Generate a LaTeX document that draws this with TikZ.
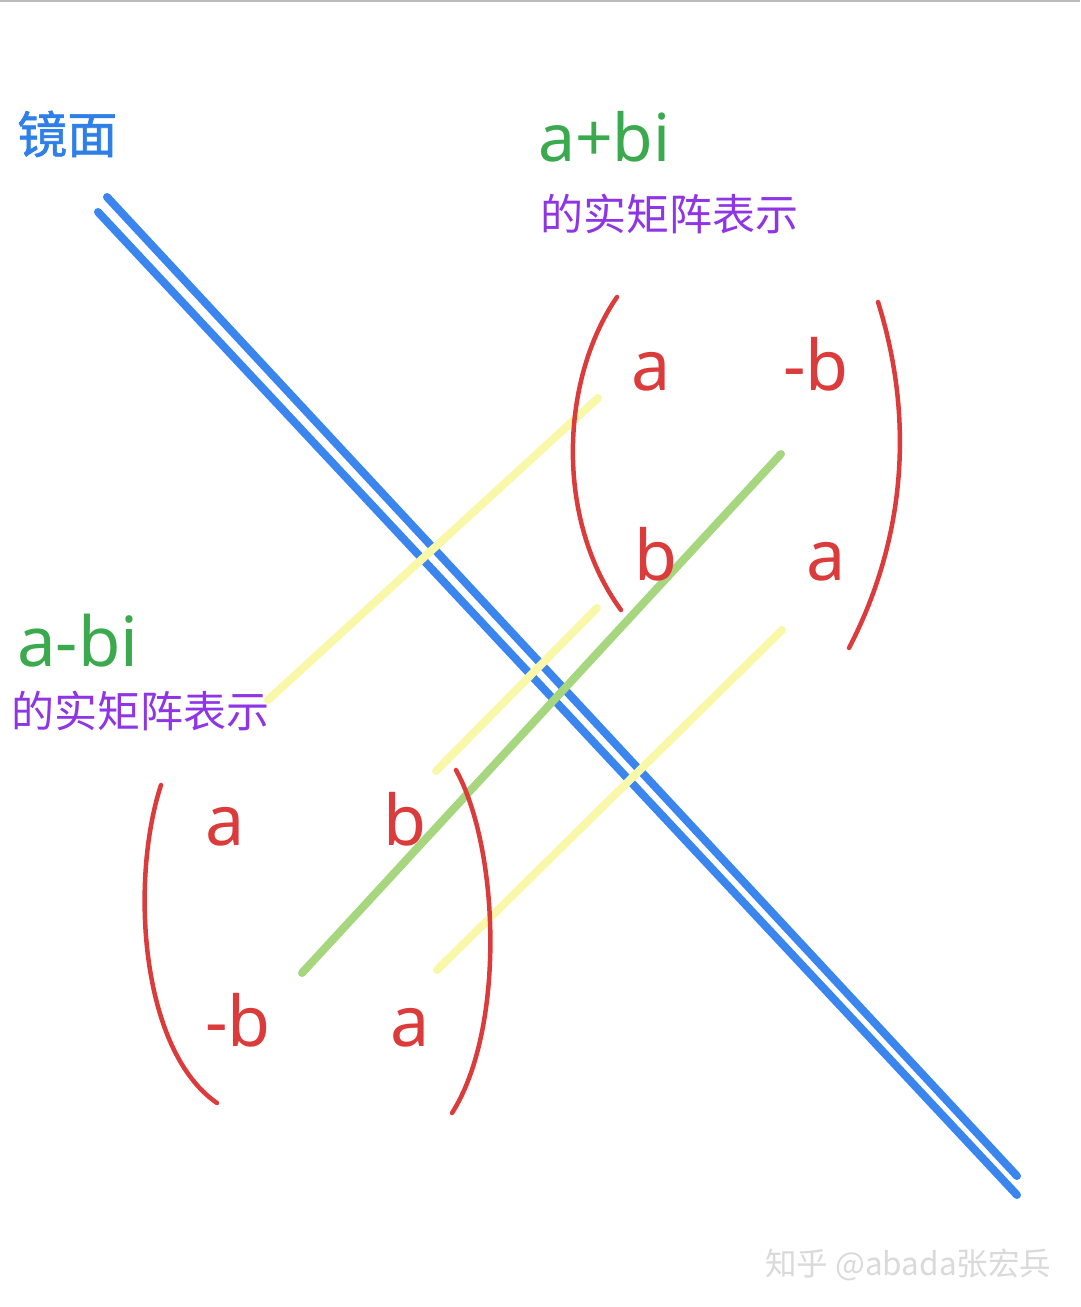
\documentclass[tikz,border=0pt]{standalone}
\usepackage{fontspec}
\setmainfont{Noto Sans}
\newfontfamily\cjk{Noto Sans CJK SC}
\newfontfamily\cjkmed[FakeBold=1.2]{Noto Sans CJK SC}
\definecolor{mirrorblue}{HTML}{3A86EE}
\definecolor{hlyellow}{HTML}{F8F8A8}
\definecolor{hlgreen}{HTML}{A6D67E}
\definecolor{penred}{HTML}{DC3B3B}
\definecolor{txtgreen}{HTML}{3BAA4E}
\definecolor{txtpurple}{HTML}{8F35E6}
\definecolor{txtblue}{HTML}{2E7FE8}
\definecolor{topgrey}{HTML}{BBBBBB}
\definecolor{wmgrey}{HTML}{DADADA}
\begin{document}
\begin{tikzpicture}[x=1pt,y=-1pt,
  mirror/.style={draw=mirrorblue,line width=8pt,line cap=round},
  yline/.style={draw=hlyellow,line width=8pt,line cap=round},
  gline/.style={draw=hlgreen,line width=8pt,line cap=round},
  paren/.style={draw=penred,line width=4.5pt,line cap=round},
  entry/.style={text=penred,font=\fontsize{70}{70}\selectfont,inner sep=0pt,anchor=base},
  title/.style={text=txtgreen,inner sep=0pt,anchor=base west},
  sub/.style={text=txtpurple,font=\cjk\fontsize{43}{43}\selectfont,inner sep=0pt,anchor=base west},
  every node/.style={inner sep=0pt}]
\useasboundingbox (0,0) rectangle (1080,1307);
\fill[white] (0,0) rectangle (1080,1307);
\draw[topgrey,line width=2pt] (0,1) -- (1080,1);

% mirror
\coordinate (m1a) at (107,197); \coordinate (m1b) at (1017,1176);
\coordinate (m2a) at (98,212);  \coordinate (m2b) at (1017,1195);
\draw[mirror] (m1a) -- (m1b);
\draw[mirror] (m2a) -- (m2b);

% correspondence lines
\coordinate (y1a) at (598,398); \coordinate (y1b) at (268,700);
\coordinate (y2a) at (597,608); \coordinate (y2b) at (436,771);
\coordinate (y3a) at (782,630); \coordinate (y3b) at (437,970);
\coordinate (g1a) at (781,454); \coordinate (g1b) at (302,973);
\draw[yline] (y1a) -- (y1b);
\draw[yline] (y2a) -- (y2b);
\draw[yline] (y3a) -- (y3b);
\draw[gline] (g1a) -- (g1b);

% parentheses
\draw[paren] (617,297) .. controls (560,380) and (555,520) .. (621,610);
\draw[paren] (878,302) .. controls (915,420) and (905,540) .. (849,648);
\draw[paren] (161,785) .. controls (130,880) and (140,1050) .. (217,1103);
\draw[paren] (456,770) .. controls (500,850) and (505,1030) .. (452,1113);

% entries upper
\node[entry] (u11) at (651,390) {a};
\node[entry] (u12) at (816,390) {-b};
\node[entry] (u21) at (656,580) {b};
\node[entry] (u22) at (826,580) {a};
% entries lower
\node[entry] (l11) at (225,845) {a};
\node[entry] (l12) at (405,845) {b};
\node[entry] (l21) at (238,1046) {-b};
\node[entry] (l22) at (410,1046) {a};

% labels
\node[text=txtblue,font=\cjkmed\fontsize{50}{50}\selectfont,anchor=base west] (mirrorlbl) at (17,153) {镜面};
\node[title,font=\fontsize{66}{66}\selectfont] (t1) at (538,161) {a+bi};
\node[sub] (s1) at (540,230) {的实矩阵表示};
\node[title,font=\fontsize{69}{69}\selectfont] (t2) at (17,666) {a-bi};
\node[sub] (s2) at (11,727) {的实矩阵表示};

% watermark
\node[text=wmgrey,font=\cjk\fontsize{31.5}{31.5}\selectfont,anchor=base west] (wm) at (765,1275) {知乎 @abada张宏兵};
\end{tikzpicture}
\end{document}
